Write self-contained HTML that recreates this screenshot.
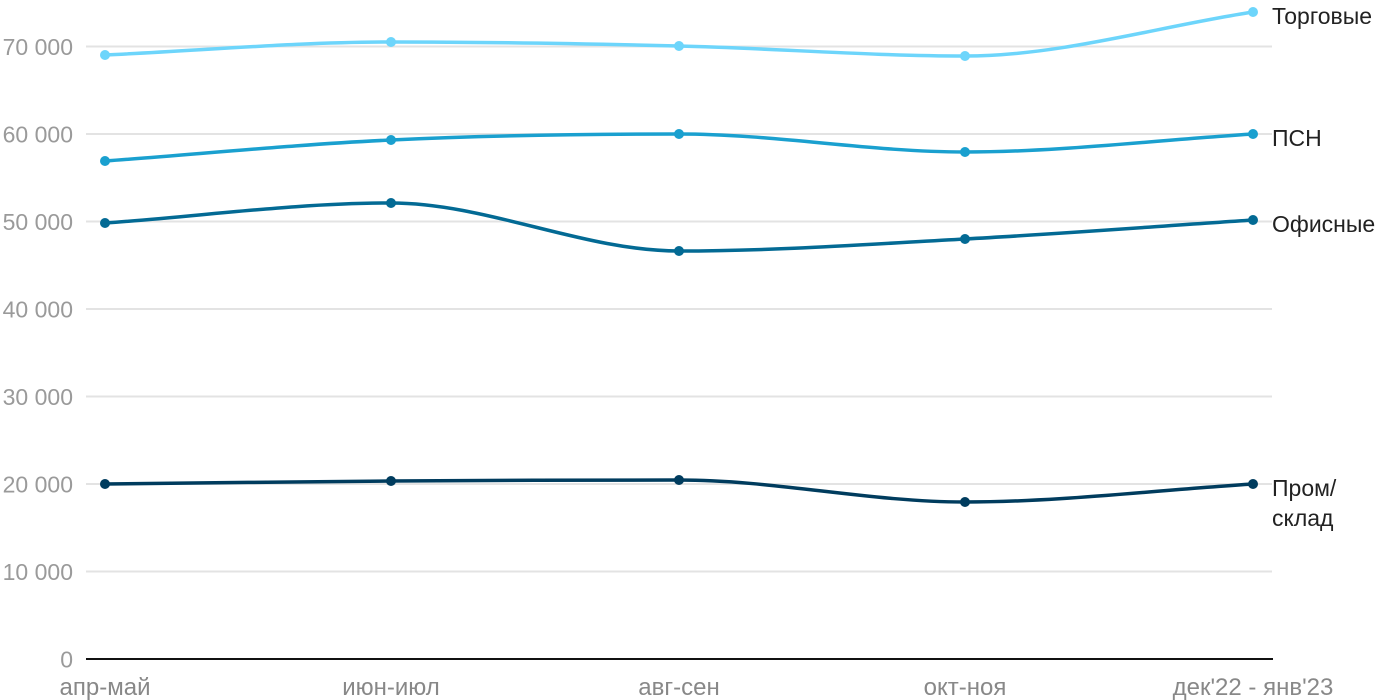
<!DOCTYPE html>
<html><head><meta charset="utf-8"><style>
html,body{margin:0;padding:0;background:#fff}
svg{display:block}
text{font-family:"Liberation Sans",sans-serif}
</style></head><body>
<svg width="1400" height="700" viewBox="0 0 1400 700" xmlns="http://www.w3.org/2000/svg">
<g stroke="#e3e3e3" stroke-width="2">
<line x1="86" x2="1272" y1="46.5" y2="46.5"/>
<line x1="86" x2="1272" y1="134" y2="134"/>
<line x1="86" x2="1272" y1="221.5" y2="221.5"/>
<line x1="86" x2="1272" y1="309" y2="309"/>
<line x1="86" x2="1272" y1="396.5" y2="396.5"/>
<line x1="86" x2="1272" y1="484" y2="484"/>
<line x1="86" x2="1272" y1="571.5" y2="571.5"/>
</g>
<line x1="86" x2="1273" y1="659" y2="659" stroke="#111" stroke-width="2"/>
<g fill="#9a9a9a" font-size="23" text-anchor="end">
<text x="73" y="55">70 000</text>
<text x="73" y="142.5">60 000</text>
<text x="73" y="230">50 000</text>
<text x="73" y="317.5">40 000</text>
<text x="73" y="405">30 000</text>
<text x="73" y="492.5">20 000</text>
<text x="73" y="580">10 000</text>
<text x="73" y="667.5">0</text>
</g>
<g fill="#888" font-size="24" text-anchor="middle">
<text x="105" y="695">апр-май</text>
<text x="391" y="695">июн-июл</text>
<text x="679" y="695">авг-сен</text>
<text x="965" y="695">окт-ноя</text>
<text x="1253" y="695">дек'22 - янв'23</text>
</g>
<g fill="none" stroke-width="3.5">
<path stroke="#6dd5fb" d="M105,55 C200.7,50.7 295.3,42 391,42 C486.7,42 583.3,43.7 679,46 C774.7,48.3 869.3,56 965,56 C1060.7,56 1157.3,26.7 1253,12"/>
<path stroke="#1aa0cf" d="M105,161 C200.7,154 295.3,144.5 391,140 C486.7,135.5 583.3,134 679,134 C774.7,134 869.3,152 965,152 C1060.7,152 1157.3,140 1253,134"/>
<path stroke="#036a94" d="M105,223 C200.7,216.3 295.3,203 391,203 C486.7,203 583.3,251 679,251 C774.7,251 869.3,244.2 965,239 C1060.7,233.8 1157.3,226.3 1253,220"/>
<path stroke="#003c5e" d="M105,484 C200.7,483 295.3,481.7 391,481 C486.7,480.3 583.3,480 679,480 C774.7,480 869.3,502 965,502 C1060.7,502 1157.3,490 1253,484"/>
</g>
<g fill="#6dd5fb"><circle cx="105" cy="55" r="5"/><circle cx="391" cy="42" r="5"/><circle cx="679" cy="46" r="5"/><circle cx="965" cy="56" r="5"/><circle cx="1253" cy="12" r="5"/></g>
<g fill="#1aa0cf"><circle cx="105" cy="161" r="5"/><circle cx="391" cy="140" r="5"/><circle cx="679" cy="134" r="5"/><circle cx="965" cy="152" r="5"/><circle cx="1253" cy="134" r="5"/></g>
<g fill="#036a94"><circle cx="105" cy="223" r="5"/><circle cx="391" cy="203" r="5"/><circle cx="679" cy="251" r="5"/><circle cx="965" cy="239" r="5"/><circle cx="1253" cy="220" r="5"/></g>
<g fill="#003c5e"><circle cx="105" cy="484" r="5"/><circle cx="391" cy="481" r="5"/><circle cx="679" cy="480" r="5"/><circle cx="965" cy="502" r="5"/><circle cx="1253" cy="484" r="5"/></g>
<g fill="#222" font-size="23">
<text x="1272" y="24">Торговые</text>
<text x="1272" y="146">ПСН</text>
<text x="1272" y="232">Офисные</text>
<text x="1272" y="496">Пром/</text>
<text x="1272" y="526">склад</text>
</g>
</svg>
</body></html>
